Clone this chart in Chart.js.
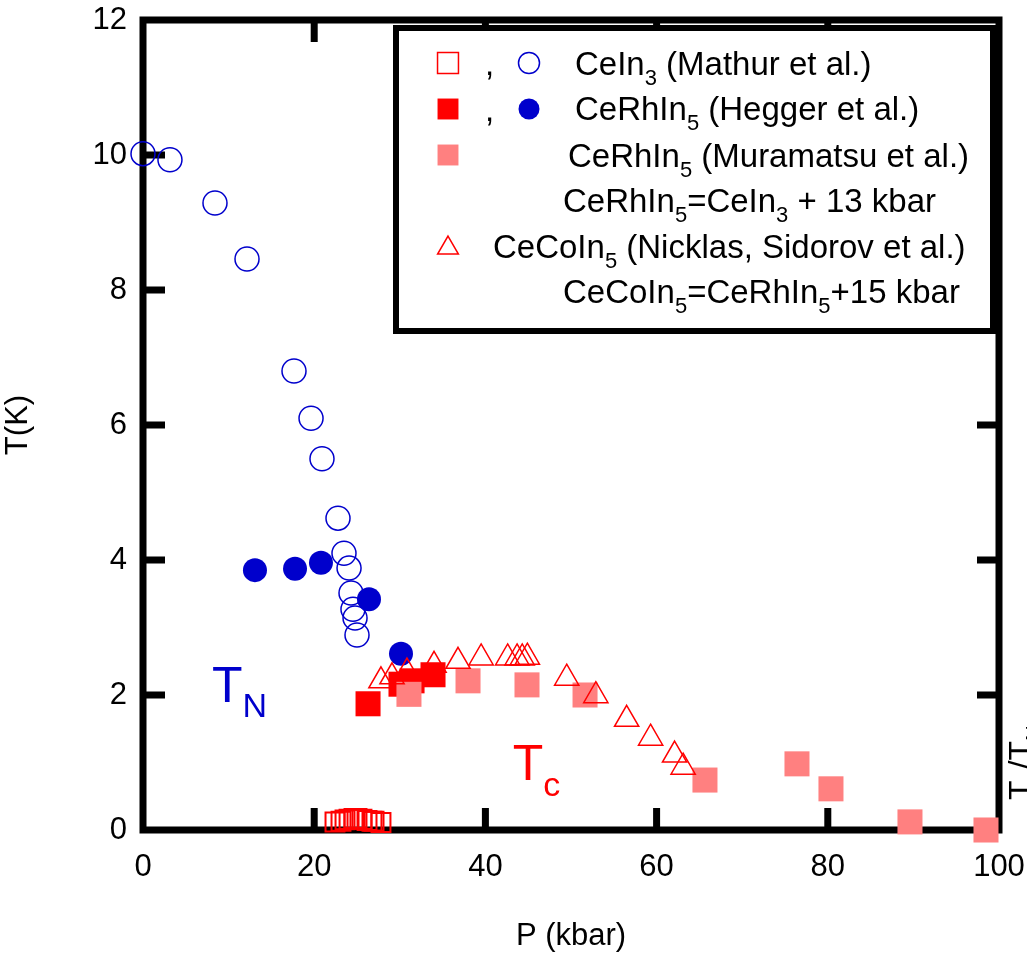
<!DOCTYPE html>
<html>
<head>
<meta charset="utf-8">
<script src="https://cdn.jsdelivr.net/npm/chart.js@4.4.1/dist/chart.umd.min.js"></script>
<style>
  html, body { margin: 0; padding: 0; background: #fff; }
  #wrap { width: 1027px; height: 955px; }
</style>
</head>
<body>
<div id="wrap"><canvas id="chart" width="1027" height="955"></canvas></div>
<script>
// Axis ticks
const pTicks = [0, 20, 40, 60, 80, 100];
const tTicks = [0, 2, 4, 6, 8, 10, 12];

// CeIn3 (Mathur et al.) - Neel temperature, open circles
const ceIn3NeelP = [0, 3.15, 8.41, 12.15, 17.64, 19.63, 20.91, 22.78, 23.48, 24.07, 24.30, 24.53, 24.77, 25.0];
const ceIn3NeelT = [10.02, 9.93, 9.29, 8.46, 6.80, 6.10, 5.50, 4.62, 4.10, 3.88, 3.51, 3.27, 3.14, 2.89];

// CeIn3 (Mathur et al.) - superconducting Tc, open squares
const ceIn3ScP = [22.43, 23.13, 23.60, 24.07, 24.65, 25.0, 25.58, 26.17, 26.75, 26.99, 27.80];
const ceIn3ScT = [0.12, 0.13, 0.15, 0.16, 0.17, 0.17, 0.16, 0.14, 0.13, 0.13, 0.11];

// CeRhIn5 (Hegger et al.) - Neel temperature, filled circles
const ceRhIn5NeelP = [13.08, 17.76, 20.79, 26.40, 30.14];
const ceRhIn5NeelT = [3.85, 3.87, 3.96, 3.42, 2.61];

// CeRhIn5 (Hegger et al.) - Tc, filled squares
const ceRhIn5ScP = [26.29, 30.14, 31.43, 33.88];
const ceRhIn5ScT = [1.87, 2.16, 2.21, 2.30];

// CeRhIn5 (Muramatsu et al.) - Tc, light squares
const muramatsuP = [31.07, 37.97, 44.86, 51.64, 65.65, 76.40, 80.37, 89.60, 98.48];
const muramatsuT = [2.01, 2.21, 2.15, 2.00, 0.74, 0.98, 0.61, 0.12, 0.0];

// CeCoIn5 (Nicklas, Sidorov et al.) - Tc, open triangles
const ceCoIn5P = [27.80, 29.09, 30.84, 34.0, 36.8, 39.5, 42.6, 43.7, 44.3, 44.9, 49.5, 52.9, 56.5, 59.3, 62.1, 63.1];
const ceCoIn5T = [2.21, 2.27, 2.34, 2.44, 2.50, 2.55, 2.55, 2.55, 2.55, 2.56, 2.25, 1.99, 1.64, 1.36, 1.11, 0.93];

const RED = '#ff0000';
const PINK = '#ff8080';
const BLUE = '#0000cc';
const NONE = 'rgba(0,0,0,0)';
const FAMILY = '"Liberation Sans", Arial, sans-serif';

function pts(xs, ys) {
    return xs.map(function(x, i) { return { x: x, y: ys[i] }; });
}

// text with subscripts: parts = [[text, isSub], ...]
function drawRich(ctx, parts, x, base, size, color) {
    ctx.fillStyle = color;
    ctx.textAlign = 'left';
    ctx.textBaseline = 'alphabetic';
    parts.forEach(function(p) {
        const sub = p[1];
        ctx.font = (sub ? Math.round(size * 0.68) : size) + 'px ' + FAMILY;
        ctx.fillText(p[0], x, base + (sub ? size * 0.31 : 0));
        x += ctx.measureText(p[0]).width;
    });
}

function mark(ctx, style, r, color, filled, lw, x, y) {
    ctx.save();
    ctx.strokeStyle = color;
    ctx.fillStyle = filled ? color : NONE;
    ctx.lineWidth = lw;
    Chart.helpers.drawPoint(ctx, { pointStyle: style, radius: r, rotation: 0, borderWidth: filled ? 0 : lw }, x, y);
    ctx.restore();
}

const framePlugin = {
    id: 'frame',
    beforeDatasetsDraw: function(chart) {
        const ctx = chart.ctx, a = chart.chartArea;
        const xs = chart.scales.x, ys = chart.scales.y;
        ctx.save();
        ctx.strokeStyle = '#000';
        ctx.lineWidth = 7;
        ctx.lineJoin = 'miter';
        ctx.strokeRect(a.left, a.top, a.right - a.left, a.bottom - a.top);
        ctx.beginPath();
        pTicks.slice(1, -1).forEach(function(v) {
            const px = xs.getPixelForValue(v);
            ctx.moveTo(px, a.bottom); ctx.lineTo(px, a.bottom - 22);
            ctx.moveTo(px, a.top); ctx.lineTo(px, a.top + 22);
        });
        tTicks.slice(1, -1).forEach(function(v) {
            const py = ys.getPixelForValue(v);
            ctx.moveTo(a.left, py); ctx.lineTo(a.left + 22, py);
            ctx.moveTo(a.right, py); ctx.lineTo(a.right - 22, py);
        });
        ctx.stroke();
        ctx.restore();
    },
    afterDraw: function(chart) {
        const ctx = chart.ctx;
        const xs = chart.scales.x, ys = chart.scales.y;
        ctx.save();

        // phase labels
        drawRich(ctx, [['T', 0], ['N', 1]], xs.getPixelForValue(8.06), ys.getPixelForValue(1.9), 50, BLUE);
        drawRich(ctx, [['T', 0], ['c', 1]], xs.getPixelForValue(43.2), ys.getPixelForValue(0.74), 50, RED);

        // clipped secondary label on the right edge
        ctx.save();
        ctx.translate(1031, 800);
        ctx.rotate(-Math.PI / 2);
        drawRich(ctx, [['T', 0], ['c', 1], ['/T', 0], ['N', 1]], 0, 0, 32, '#000');
        ctx.restore();

        // legend box
        ctx.fillStyle = '#fff';
        ctx.fillRect(396, 28, 597, 303);
        ctx.strokeStyle = '#000';
        ctx.lineWidth = 6;
        ctx.strokeRect(396, 28, 597, 303);

        const fs = 33;
        mark(ctx, 'rect', 14.8, RED, false, 1.5, 448, 63);
        drawRich(ctx, [[',', 0]], 485, 75, fs, '#000');
        mark(ctx, 'circle', 10.5, BLUE, false, 1.5, 529, 63);
        drawRich(ctx, [['CeIn', 0], ['3', 1], [' (Mathur et al.)', 0]], 575, 75, fs, '#000');

        mark(ctx, 'rect', 14.8, RED, true, 0, 448, 109);
        drawRich(ctx, [[',', 0]], 485, 121, fs, '#000');
        mark(ctx, 'circle', 10.5, BLUE, true, 0, 529, 109);
        drawRich(ctx, [['CeRhIn', 0], ['5', 1], [' (Hegger et al.)', 0]], 575, 120, fs, '#000');

        mark(ctx, 'rect', 14.8, PINK, true, 0, 448, 155);
        drawRich(ctx, [['CeRhIn', 0], ['5', 1], [' (Muramatsu et al.)', 0]], 568, 167, fs, '#000');

        drawRich(ctx, [['CeRhIn', 0], ['5', 1], ['=CeIn', 0], ['3', 1], [' + 13 kbar', 0]], 563, 212, fs, '#000');

        mark(ctx, 'triangle', 12, RED, false, 1.5, 448, 248);
        drawRich(ctx, [['CeCoIn', 0], ['5', 1], [' (Nicklas, Sidorov et al.)', 0]], 493, 258, fs, '#000');

        drawRich(ctx, [['CeCoIn', 0], ['5', 1], ['=CeRhIn', 0], ['5', 1], ['+15 kbar', 0]], 563, 303, fs, '#000');

        ctx.restore();
    }
};

const tickFont = { family: FAMILY, size: 31 };

new Chart(document.getElementById('chart'), {
    type: 'scatter',
    data: {
        datasets: [
            { label: 'CeCoIn5 Tc', data: pts(ceCoIn5P, ceCoIn5T), pointStyle: 'triangle', pointRadius: 14,
              borderColor: RED, backgroundColor: NONE, borderWidth: 1.5, clip: false, order: 0 },
            { label: 'CeRhIn5 Tc (Muramatsu)', data: pts(muramatsuP, muramatsuT), pointStyle: 'rect', pointRadius: 17.7,
              borderColor: PINK, backgroundColor: PINK, borderWidth: 0, clip: false, order: 1 },
            { label: 'CeRhIn5 Tc (Hegger)', data: pts(ceRhIn5ScP, ceRhIn5ScT), pointStyle: 'rect', pointRadius: 17.7,
              borderColor: RED, backgroundColor: RED, borderWidth: 0, clip: false, order: 2 },
            { label: 'CeRhIn5 TN (Hegger)', data: pts(ceRhIn5NeelP, ceRhIn5NeelT), pointStyle: 'circle', pointRadius: 12,
              borderColor: BLUE, backgroundColor: BLUE, borderWidth: 0, clip: false, order: 3 },
            { label: 'CeIn3 Tc (Mathur)', data: pts(ceIn3ScP, ceIn3ScT), pointStyle: 'rect', pointRadius: 13.4,
              borderColor: RED, backgroundColor: NONE, borderWidth: 2, clip: false, order: 4 },
            { label: 'CeIn3 TN (Mathur)', data: pts(ceIn3NeelP, ceIn3NeelT), pointStyle: 'circle', pointRadius: 12,
              borderColor: BLUE, backgroundColor: NONE, borderWidth: 1.5, clip: false, order: 5 }
        ]
    },
    options: {
        responsive: false,
        animation: false,
        events: [],
        layout: { padding: { top: 20, right: 28, left: 0, bottom: 0 } },
        plugins: { legend: { display: false }, tooltip: { enabled: false } },
        scales: {
            x: {
                type: 'linear', min: 0, max: 100,
                afterBuildTicks: function(s) { s.ticks = pTicks.map(function(v) { return { value: v }; }); },
                ticks: { font: tickFont, color: '#000', padding: 19, maxRotation: 0, autoSkip: false },
                grid: { display: false, drawTicks: false },
                border: { display: false },
                title: { display: true, text: 'P (kbar)', font: tickFont, color: '#000', padding: 0 },
                afterFit: function(s) { s.height = 125; s.paddingLeft = 0; s.paddingRight = 0; }
            },
            y: {
                type: 'linear', min: 0, max: 12,
                afterBuildTicks: function(s) { s.ticks = tTicks.map(function(v) { return { value: v }; }); },
                ticks: { font: tickFont, color: '#000', padding: 16, autoSkip: false },
                grid: { display: false, drawTicks: false },
                border: { display: false },
                title: { display: true, text: 'T(K)', font: tickFont, color: '#000', padding: 0 },
                afterFit: function(s) { s.width = 143; s.paddingTop = 0; s.paddingBottom = 0; }
            }
        }
    },
    plugins: [framePlugin]
});
</script>
</body>
</html>
